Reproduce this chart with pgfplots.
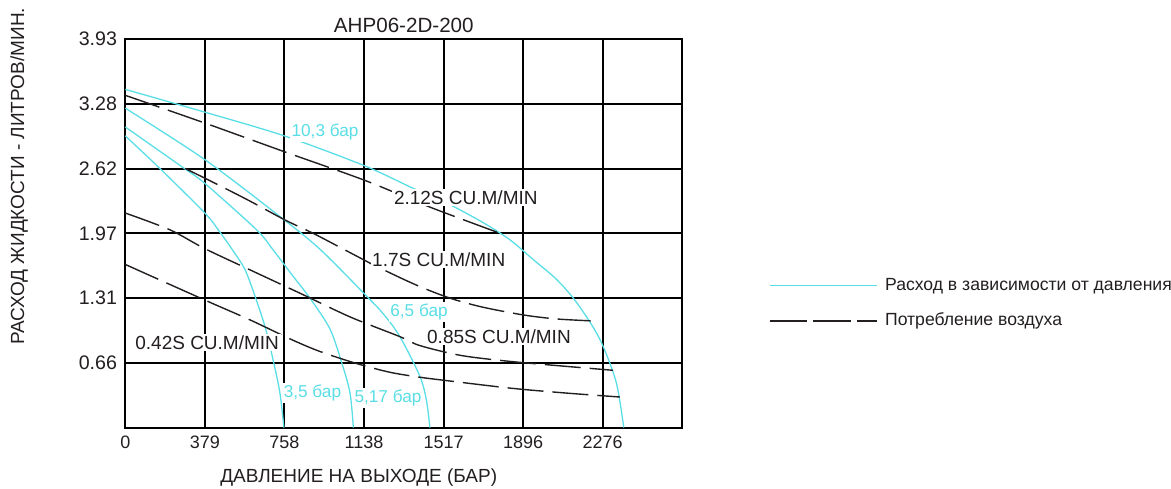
\documentclass[border=0pt]{standalone}
\usepackage{fontspec}
\setmainfont{Liberation Sans}
\usepackage{pgfplots}
\pgfplotsset{compat=1.18}
\definecolor{cy}{RGB}{90,222,230}
\definecolor{tx}{RGB}{35,31,32}

\pgfplotsset{
  flow/.style={cy, line width=0.65pt, smooth, no markers},
  air/.style={tx, line width=0.7pt, smooth, no markers, dash pattern=on 18pt off 4.5pt},
  flowleg/.style={legend image code/.code={\draw[##1, line width=0.8pt] (0pt,0pt) -- (53.5pt,0pt);}},
  airleg/.style={legend image code/.code={\path (0pt,0pt) -- (53.5pt,0pt);
      \draw[##1, dash pattern=on 8pt off 3pt] (10.85pt,0pt) -- (52.35pt,0pt);}},
}
\tikzset{
  lbl/.style={fill=white, inner sep=0.8pt, text=tx, font=\fontsize{9.5}{10}\selectfont},
  clbl/.style={fill=white, inner sep=0.8pt, text=cy, font=\fontsize{8.6}{10}\selectfont},
}

\begin{document}
\begin{tikzpicture}
\begin{axis}[
  scale only axis, width=278.5pt, height=194.35pt,
  xmin=0, xmax=2655, ymin=0, ymax=3.93,
  clip=false,
  xtick={0,379.3,758.6,1137.9,1517.1,1896.4,2275.7},
  xticklabels={0,379,758,1138,1517,1896,2276},
  ytick={0.655,1.31,1.965,2.62,3.275,3.93},
  yticklabels={0.66,1.31,1.97,2.62,3.28,3.93},
  grid=major,
  major grid style={black, line width=1pt},
  axis line style={black, line width=1pt},
  major tick length=0pt,
  xticklabel style={anchor=base, yshift=-10.4pt, inner sep=0pt, text=tx, font=\fontsize{9}{10}\selectfont},
  yticklabel style={anchor=east, xshift=-4pt, inner sep=0pt, text=tx, font=\fontsize{9.8}{10}\selectfont},
  xlabel={ДАВЛЕНИЕ НА ВЫХОДЕ (БАР)},
  xlabel style={at={(rel axis cs:0.419,-0.129)}, anchor=center, inner sep=0pt, text=tx, font=\fontsize{9.5}{10}\selectfont},
  ylabel={РАСХОД ЖИДКОСТИ - ЛИТРОВ/МИН.},
  ylabel style={at={(rel axis cs:-0.1908,0.6463)}, anchor=center, rotate=0, inner sep=0pt, text=tx, font=\fontsize{9.5}{10}\selectfont},
  legend style={draw=none, fill=none, at={(rel axis cs:1.1544,0.3199)}, anchor=west,
    inner sep=0pt, row sep=8.65pt, column sep=3.9pt,
    nodes={inner sep=0pt, text height=7pt, text depth=2pt, text=tx, font=\fontsize{8.8}{10}\selectfont}},
  legend cell align=left,
]

% 10,3 bar
\addplot[flow, flowleg] coordinates {
  (0,3.42) (379,3.19) (758,2.95) (1138,2.65) (1372,2.42) (1515,2.29) (1700,2.08)
  (1833,1.90) (1944,1.70) (2050,1.51) (2135,1.31) (2220,1.05) (2278,0.82) (2341,0.45) (2376,0)};
\addlegendentry{Расход в зависимости от давления}

% 2.12S CU.M/MIN
\addplot[air, airleg] coordinates {
  (0,3.36) (379,3.08) (758,2.79) (1142,2.50) (1452,2.23) (1793,1.96)};
\addlegendentry{Потребление воздуха}

% 6,5 bar
\addplot[flow, forget plot] coordinates {
  (0,3.23) (379,2.71) (758,2.10) (935,1.79) (1150,1.33) (1230,1.15) (1309,0.92)
  (1404,0.52) (1435,0.28) (1452,0)};
% 5,17 bar
\addplot[flow, forget plot] coordinates {
  (0,3.04) (275,2.63) (379,2.47) (626,2.00) (700,1.81) (800,1.53) (880,1.31)
  (975,1.00) (1031,0.66) (1071,0.35) (1087,0)};
% 3,5 bar
\addplot[flow, forget plot] coordinates {
  (0,2.95) (165,2.62) (379,2.17) (443,2.00) (510,1.80) (570,1.60) (618,1.33)
  (666,1.02) (705,0.68) (737,0.35) (756,0)};

% 1.7S CU.M/MIN
\addplot[air, forget plot] coordinates {
  (285,2.62) (391,2.51) (586,2.30) (761,2.10) (900,1.96) (1071,1.77) (1198,1.63)
  (1389,1.44) (1547,1.31) (1700,1.22) (1896,1.14) (2050,1.10) (2218,1.08)};
% 0.85S CU.M/MIN
\addplot[air, forget plot] coordinates {
  (0,2.17) (213,2.00) (379,1.81) (610,1.58) (832,1.36) (1071,1.12) (1309,0.92)
  (1404,0.83) (1600,0.73) (1833,0.67) (2100,0.62) (2325,0.58)};
% 0.42S CU.M/MIN
\addplot[air, forget plot] coordinates {
  (0,1.65) (379,1.29) (594,1.09) (793,0.89) (928,0.77) (1100,0.65) (1261,0.56)
  (1404,0.51) (1515,0.48) (1833,0.40) (2100,0.35) (2357,0.31)};

\node[clbl] at (axis cs:952,2.99) {10,3 бар};
\node[lbl] at (axis cs:1623,2.33) {2.12S CU.M/MIN};
\node[lbl] at (axis cs:1494,1.70) {1.7S CU.M/MIN};
\node[clbl] at (axis cs:1400,1.17) {6,5 бар};
\node[lbl] at (axis cs:1781,0.92) {0.85S CU.M/MIN};
\node[lbl] at (axis cs:390,0.86) {0.42S CU.M/MIN};
\node[clbl] at (axis cs:892,0.35) {3,5 бар};
\node[clbl] at (axis cs:1252,0.30) {5,17 бар};

\node[text=tx, inner sep=0pt, font=\fontsize{10.3}{10}\selectfont] at (rel axis cs:0.5,1.036) {AHP06-2D-200};

\coordinate (bbsw) at (rel axis cs:-0.225,-0.1577);
\coordinate (bbne) at (rel axis cs:1.8774,1.1003);
\end{axis}
\pgfresetboundingbox
\path (bbsw) rectangle (bbne);
\end{tikzpicture}
\end{document}
